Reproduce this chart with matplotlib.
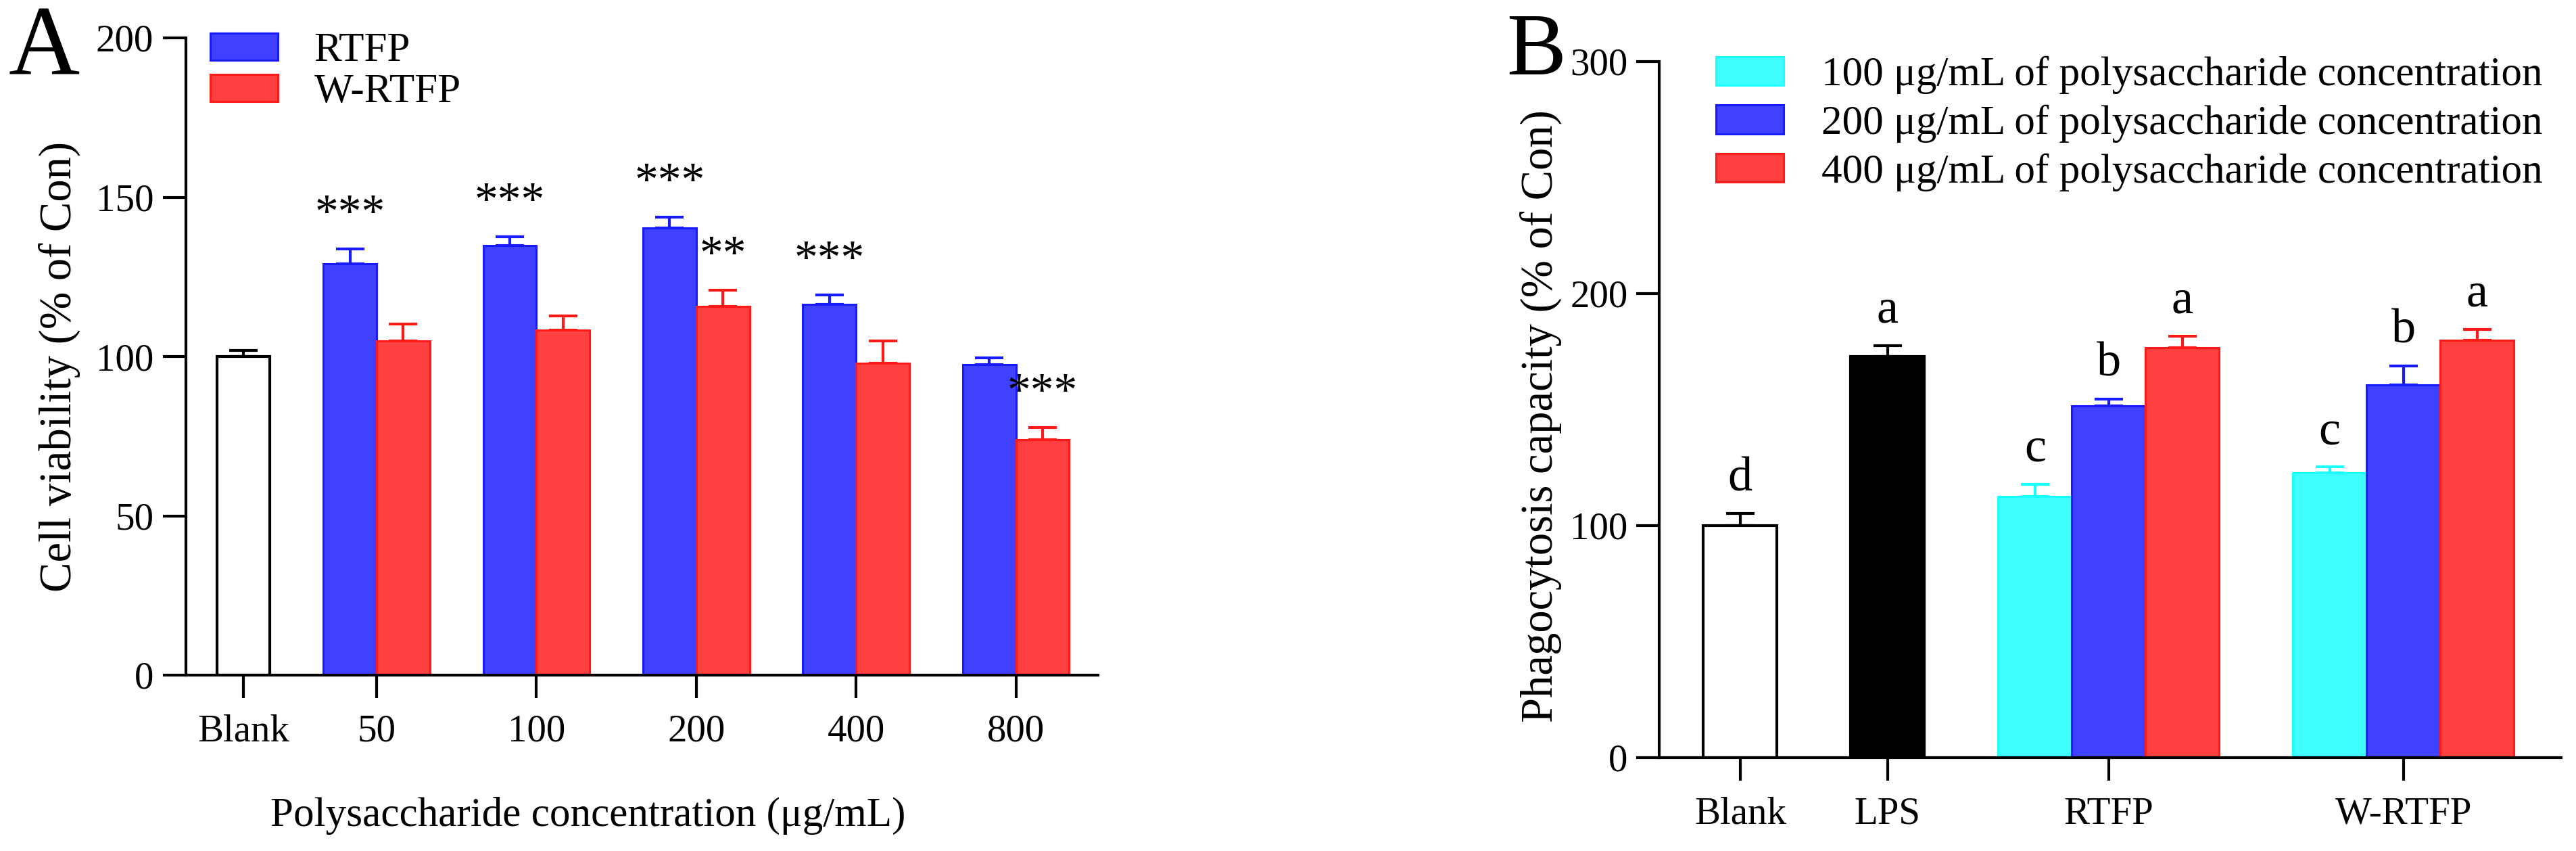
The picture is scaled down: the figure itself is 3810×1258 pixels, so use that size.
import matplotlib
matplotlib.use("Agg")
import matplotlib.pyplot as plt
import numpy as np

plt.rcParams['font.family'] = ['Liberation Serif', 'DejaVu Serif']

# ---------------- data: panel A ----------------
a_groups = ['50', '100', '200', '400', '800']
a_blank_val = 100.0
a_blank_err = 2.0
a_rtfp = [129.0, 134.9, 140.4, 116.4, 97.4]
a_rtfp_err = [4.7, 2.7, 3.4, 3.0, 2.1]
a_wrtfp = [104.9, 108.2, 115.7, 97.8, 73.9]
a_wrtfp_err = [5.3, 4.6, 5.1, 7.0, 3.8]
a_rtfp_sig = ['***', '***', '***', '***', '']
a_wrtfp_sig = ['', '', '**', '', '***']
a_series = ['RTFP', 'W-RTFP']

# ---------------- data: panel B ----------------
b_cats = ['Blank', 'LPS', 'RTFP', 'W-RTFP']
b_blank_val, b_blank_err, b_blank_lab = 100.0, 5.1, 'd'
b_lps_val, b_lps_err, b_lps_lab = 172.9, 4.7, 'a'
b_c100 = [112.6, 122.7]
b_c100_err = [5.2, 2.5]
b_c200 = [151.4, 160.7]
b_c200_err = [3.0, 8.0]
b_c400 = [176.6, 179.9]
b_c400_err = [4.9, 4.7]
b_c100_lab = ['c', 'c']
b_c200_lab = ['b', 'b']
b_c400_lab = ['a', 'a']
b_series = ['100 μg/mL of polysaccharide concentration',
            '200 μg/mL of polysaccharide concentration',
            '400 μg/mL of polysaccharide concentration']

# ---------------- style ----------------
BLUE, BLUE_E = '#4040FF', '#1A1AFF'
RED, RED_E = '#FF4040', '#FF1A1A'
CYAN, CYAN_E = '#40FFFF', '#1AFFFF'
FS = 44
TICKFS = 41
LW = 3.0

W, H = 3810, 1258
fig = plt.figure(figsize=(W / 100, H / 100), dpi=100)


def px_axes(l, t, r, b):
    return fig.add_axes([l / W, 1 - b / H, (r - l) / W, (b - t) / H])


def style_axes(ax):
    for s in ['top', 'right']:
        ax.spines[s].set_visible(False)
    for s in ['left', 'bottom']:
        ax.spines[s].set_linewidth(LW)
    ax.tick_params(axis='both', which='major', direction='out', length=24.5,
                   width=LW, labelsize=TICKFS)


def draw_err(ax, x, v, e, color):
    ax.errorbar(x, v, yerr=[np.zeros(len(np.atleast_1d(v))), e], fmt='none',
                ecolor=color, elinewidth=LW, capsize=15, capthick=LW, zorder=0.9)


# ================= Panel A =================
axA = px_axes(275, 56, 1624, 998)
style_axes(axA)
bw = 1.0
xa_blank = 0.0
xa_groups = 2.5 + 3.0 * np.arange(len(a_groups))

axA.bar(xa_blank, a_blank_val, width=bw, color='white', edgecolor='black', linewidth=LW, zorder=1)
draw_err(axA, [xa_blank], [a_blank_val], [a_blank_err], 'black')
hA1 = axA.bar(xa_groups - bw / 2, a_rtfp, width=bw, color=BLUE, edgecolor=BLUE_E, linewidth=2.2, zorder=1)
hA2 = axA.bar(xa_groups + bw / 2, a_wrtfp, width=bw, color=RED, edgecolor=RED_E, linewidth=2.2, zorder=1)
draw_err(axA, xa_groups - bw / 2, a_rtfp, a_rtfp_err, BLUE_E)
draw_err(axA, xa_groups + bw / 2, a_wrtfp, a_wrtfp_err, RED_E)

for i in range(len(a_groups)):
    if a_rtfp_sig[i]:
        axA.text(xa_groups[i] - bw / 2, a_rtfp[i] + a_rtfp_err[i] + 7, a_rtfp_sig[i],
                 ha='center', va='baseline', fontsize=50)
    if a_wrtfp_sig[i]:
        axA.text(xa_groups[i] + bw / 2, a_wrtfp[i] + a_wrtfp_err[i] + 7, a_wrtfp_sig[i],
                 ha='center', va='baseline', fontsize=50)

axA.set_xlim(-1.08, 16.04)
axA.set_ylim(0, 200)
axA.set_yticks([0, 50, 100, 150, 200])
axA.set_xticks([xa_blank] + list(xa_groups))
axA.set_xticklabels(['Blank'] + a_groups)
axA.tick_params(axis='y', pad=10)
axA.tick_params(axis='x', pad=17)

axA.set_ylabel('Cell viability (% of Con)', fontsize=48)
axA.yaxis.label.set(va='center', ha='center', rotation_mode='default')
axA.yaxis.set_label_coords(-0.1386, 0.4841)
axA.set_xlabel('Polysaccharide concentration (μg/mL)', fontsize=FS)
axA.xaxis.label.set(va='center', ha='center')
axA.xaxis.set_label_coords(0.4407, -0.2208)

axA.legend([hA1, hA2], a_series, loc='upper left', bbox_to_anchor=(311 / W, 1 - 48 / H),
           bbox_transform=fig.transFigure, frameon=False, fontsize=FS,
           handlelength=1.64, handleheight=0.62, handletextpad=0.87,
           labelspacing=0.09, borderpad=0, borderaxespad=0)

fig.text(13 / W, 1 - 110 / H, 'A', fontsize=105, ha='left', va='baseline')

# ================= Panel B =================
axB = px_axes(2454, 90.6, 3788, 1120)
style_axes(axB)
xb_blank, xb_lps = 0.0, 2.0
xb_groups = np.array([5.0, 9.0])

axB.bar(xb_blank, b_blank_val, width=bw, color='white', edgecolor='black', linewidth=LW, zorder=1)
axB.bar(xb_lps, b_lps_val, width=bw, color='black', edgecolor='black', linewidth=LW, zorder=1)
draw_err(axB, [xb_blank], [b_blank_val], [b_blank_err], 'black')
draw_err(axB, [xb_lps], [b_lps_val], [b_lps_err], 'black')
hB1 = axB.bar(xb_groups - bw, b_c100, width=bw, color=CYAN, edgecolor=CYAN_E, linewidth=2.2, zorder=1)
hB2 = axB.bar(xb_groups, b_c200, width=bw, color=BLUE, edgecolor=BLUE_E, linewidth=2.2, zorder=1)
hB3 = axB.bar(xb_groups + bw, b_c400, width=bw, color=RED, edgecolor=RED_E, linewidth=2.2, zorder=1)
draw_err(axB, xb_groups - bw, b_c100, b_c100_err, CYAN_E)
draw_err(axB, xb_groups, b_c200, b_c200_err, BLUE_E)
draw_err(axB, xb_groups + bw, b_c400, b_c400_err, RED_E)

LOFF = 10
axB.text(xb_blank, b_blank_val + b_blank_err + LOFF, b_blank_lab, ha='center', va='baseline', fontsize=52)
axB.text(xb_lps, b_lps_val + b_lps_err + LOFF, b_lps_lab, ha='center', va='baseline', fontsize=52)
for i in range(len(xb_groups)):
    axB.text(xb_groups[i] - bw, b_c100[i] + b_c100_err[i] + LOFF, b_c100_lab[i], ha='center', va='baseline', fontsize=52)
    axB.text(xb_groups[i], b_c200[i] + b_c200_err[i] + LOFF, b_c200_lab[i], ha='center', va='baseline', fontsize=52)
    axB.text(xb_groups[i] + bw, b_c400[i] + b_c400_err[i] + LOFF, b_c400_lab[i], ha='center', va='baseline', fontsize=52)

axB.set_xlim(-1.1, 11.14)
axB.set_ylim(0, 300)
axB.set_yticks([0, 100, 200, 300])
axB.set_xticks([xb_blank, xb_lps] + list(xb_groups))
axB.set_xticklabels(b_cats)
axB.tick_params(axis='y', pad=9)
axB.tick_params(axis='x', pad=17)

axB.set_ylabel('Phagocytosis capacity (% of Con)', fontsize=48)
axB.yaxis.label.set(va='center', ha='center', rotation_mode='default')
axB.yaxis.set_label_coords(-0.1312, 0.4906)

axB.legend([hB1, hB2, hB3], b_series, loc='upper left', bbox_to_anchor=(2538 / W, 1 - 83 / H),
           bbox_transform=fig.transFigure, frameon=False, fontsize=FS,
           handlelength=1.64, handleheight=0.69, handletextpad=0.92,
           labelspacing=0.25, borderpad=0, borderaxespad=0)

fig.text(2228 / W, 1 - 110 / H, 'B', fontsize=95, ha='left', va='baseline')

fig.savefig('out.png', dpi=100)
